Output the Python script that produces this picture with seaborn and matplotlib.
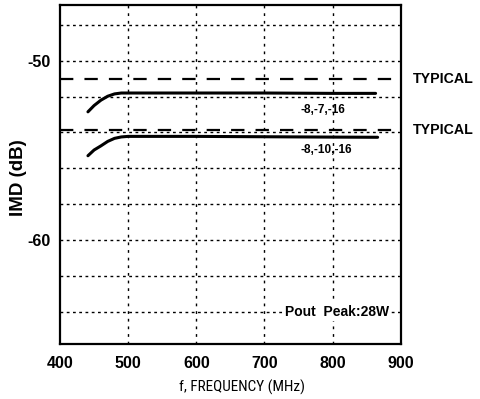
import matplotlib
matplotlib.use("Agg")
import matplotlib.pyplot as plt
import seaborn as sns
import pandas as pd
from matplotlib import font_manager

sns.set_style("white")
plt.rcParams['font.family'] = ['Liberation Sans', 'DejaVu Sans']
plt.rcParams['text.color'] = 'black'
plt.rcParams['axes.labelcolor'] = 'black'
plt.rcParams['xtick.color'] = 'black'
plt.rcParams['ytick.color'] = 'black'

# data
freq_a = [441, 450, 460, 470, 480, 490, 500, 600, 700, 800, 863]
imd_a = [-52.85, -52.5, -52.2, -51.98, -51.85, -51.8, -51.8, -51.8, -51.8, -51.82, -51.82]
freq_b = [441, 450, 460, 470, 480, 490, 500, 600, 700, 800, 866]
imd_b = [-55.3, -54.98, -54.75, -54.5, -54.33, -54.25, -54.22, -54.22, -54.24, -54.26, -54.27]
typical = [-51.0, -53.85]
label_a = "-8,-7,-16"
label_b = "-8,-10,-16"
xticks = [400, 500, 600, 700, 800, 900]
yticks_labeled = [-50, -60]
ygrid = [-48, -50, -52, -54, -56, -58, -60, -62, -64]
xgrid = [500, 600, 700, 800]

df = pd.concat([
    pd.DataFrame({"f": freq_a, "imd": imd_a, "s": label_a}),
    pd.DataFrame({"f": freq_b, "imd": imd_b, "s": label_b}),
])

# pick a condensed font for the x label if one is installed
names = {f.name for f in font_manager.fontManager.ttflist}
cond = None
for cand in ["Liberation Sans Narrow", "DejaVu Sans Condensed", "Roboto Condensed", "Open Sans Condensed"]:
    if cand in names:
        cond = cand
        break

fig = plt.figure(figsize=(4.8, 3.99), dpi=100)
ax = fig.add_axes([0.125, 0.138, 0.71, 0.849])

for y in ygrid:
    ax.axhline(y, color="black", lw=1.0, ls=(0, (2, 2.5)), zorder=1)
for x in xgrid:
    ax.axvline(x, color="black", lw=1.0, ls=(0, (2, 3.5)), zorder=1)
for y in typical:
    ax.axhline(y, color="black", lw=1.6, ls=(0, (6, 5)), zorder=2)

sns.lineplot(data=df, x="f", y="imd", hue="s", palette=["black", "black"],
             linewidth=2.2, legend=False, ax=ax, zorder=3, sort=True)

ax.set_xlim(400, 900)
ax.set_ylim(-65.8, -46.9)
ax.set_xticks(xticks)
ax.set_yticks(yticks_labeled)
ax.tick_params(axis="both", length=0, pad=7)
ax.set_xticklabels([str(v) for v in xticks], fontweight="bold", fontsize=11.5)
ax.set_yticklabels([str(v) for v in yticks_labeled], fontweight="bold", fontsize=11.5)
ax.tick_params(axis="x", pad=9)

for sp in ax.spines.values():
    sp.set_linewidth(1.6)
    sp.set_color("black")

if cond:
    ax.set_xlabel("f, FREQUENCY (MHz)", fontsize=11, family=[cond, 'DejaVu Sans'])
else:
    ax.set_xlabel("f, FREQUENCY (MHz)", fontsize=9.5)
ax.xaxis.set_label_coords(0.535, -0.105)
ax.set_ylabel("IMD (dB)", fontsize=13.5, fontweight="bold")
ax.yaxis.set_label_coords(-0.097, 0.49)

for y in typical:
    ax.text(1.035, y, "TYPICAL", transform=ax.get_yaxis_transform(), fontsize=10.2,
            fontweight="bold", va="center", ha="left", clip_on=False)

ax.text(0.77, -52.72, label_a, transform=ax.get_yaxis_transform(), fontsize=8.5,
        fontweight="bold", ha="center", va="center")
ax.text(0.78, -55.0, label_b, transform=ax.get_yaxis_transform(), fontsize=8.5,
        fontweight="bold", ha="center", va="center")
ax.text(0.966, -64.0, "Pout  Peak:28W", transform=ax.get_yaxis_transform(), fontsize=10,
        fontweight="bold", ha="right", va="center",
        bbox=dict(facecolor="white", edgecolor="none", pad=1.5), zorder=4)

fig.savefig("out.png", dpi=100)
